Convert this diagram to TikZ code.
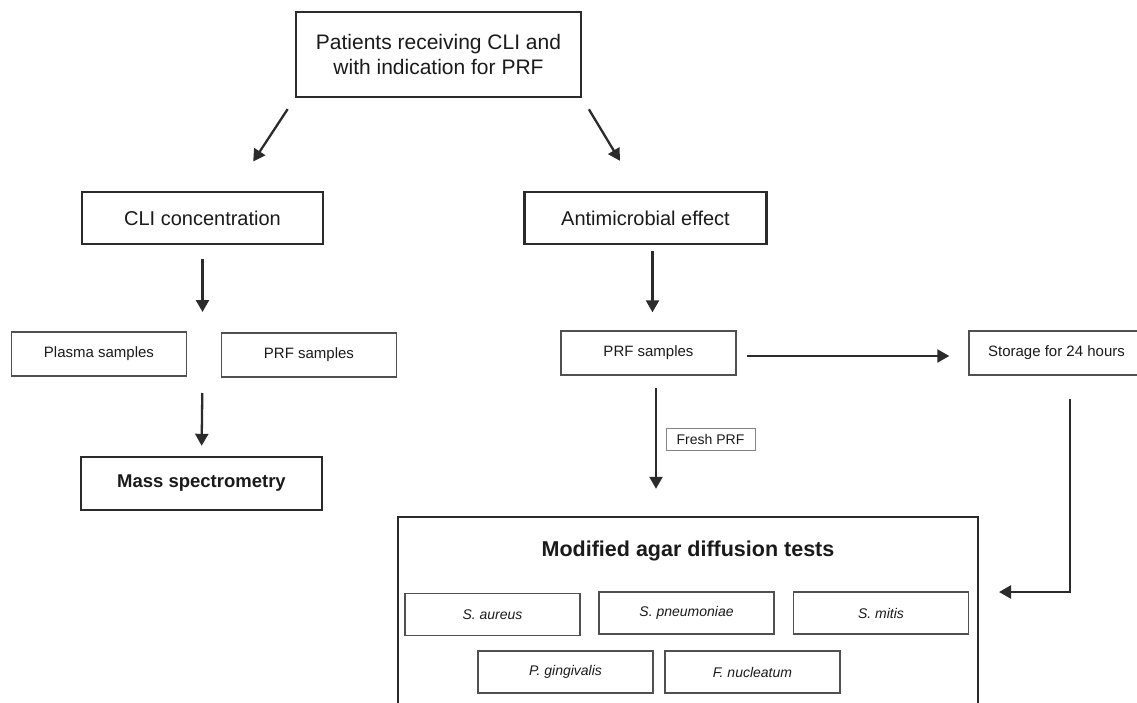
\documentclass[tikz,border=0pt]{standalone}
\usepackage{fontspec}
\setmainfont{Liberation Sans}
\usetikzlibrary{arrows.meta}

\definecolor{ink}{HTML}{1A1A1A}
\definecolor{edge}{HTML}{2B2B2B}
\definecolor{thin}{HTML}{505050}

\begin{document}
\begin{tikzpicture}[x=1pt, y=-1pt,
        every node/.style={rectangle, inner sep=0pt, text=ink, align=center},
        mainbox/.style={draw=edge, line width=2.4pt,
                font=\fontsize{20pt}{25pt}\selectfont},
        smallbox/.style={draw=thin, line width=1.4pt,
                minimum width=175pt, minimum height=44pt,
                font=\fontsize{15pt}{18pt}\selectfont},
        species/.style={smallbox, minimum height=42pt,
                font=\fontsize{14pt}{17pt}\selectfont\itshape},
        arr/.style={draw=edge, line width=2.3pt,
                -{Triangle[width=13pt, length=12pt]}}]
            \useasboundingbox (0,0) rectangle (1137,702);
            \clip (0,0) rectangle (1137,702);

            % top and the two branches
            \node[mainbox, minimum width=285pt, minimum height=85pt,
                font=\fontsize{21pt}{25pt}\selectfont] (pat) at (438.5, 54.5)
                {Patients receiving CLI and\\with indication for PRF};
            \node[mainbox, minimum width=241pt, minimum height=52pt] (cli) at (202.5, 218) {CLI concentration};
            \node[mainbox, minimum width=242pt, minimum height=52pt] (amb) at (645.5, 218) {Antimicrobial effect};

            % left branch
            \node[smallbox] (plasma) at (99, 354) {Plasma samples};
            \node[smallbox] (prfl) at (309, 355) {PRF samples};
            \node[mainbox, minimum width=241pt, minimum height=53pt,
                font=\bfseries\fontsize{18.5pt}{22pt}\selectfont] (mass) at (201.5, 483.5) {Mass spectrometry};
            \coordinate (gapt) at (202.5, 332);
            \coordinate (gapb) at (202.5, 377);

            % right branch
            \node[smallbox] (prfr) at (648.5, 353) {PRF samples};
            \node[smallbox] (store) at (1056.5, 353) {Storage for 24 hours};
            \node[draw=thin!70, line width=1pt, minimum width=89pt, minimum height=22pt,
                font=\fontsize{14pt}{16pt}\selectfont] (fresh) at (710.5, 439) {Fresh PRF};

            % agar tests
            \node[mainbox, minimum width=580pt, minimum height=210pt] (tests) at (688, 622) {};
            \node[font=\bfseries\fontsize{21.5pt}{24pt}\selectfont] (title) at (688, 551)
                {Modified agar diffusion tests};
            \node[species] (sa) at (492.5, 614.5) {S. aureus};
            \node[species] (sp) at (686.5, 613) {S. pneumoniae};
            \node[species] (sm) at (881, 613) {S. mitis};
            \node[species] (pg) at (565.5, 672) {P. gingivalis};
            \node[species] (fn) at (752.5, 672) {F. nucleatum};
            \coordinate (inlet) at (978, 592);

            \draw[arr, shorten <=13pt, shorten >=35pt] (pat.south west) -- ([xshift=31.5pt]cli.north);
            \draw[arr, shorten <=13pt, shorten >=35pt] (pat.south east) -- ([xshift=-7.5pt]amb.north);
            \draw[arr, shorten <=14pt, shorten >=20pt] (cli.south) -- (gapt);
            \draw[arr, shorten <=16pt, shorten >=10pt] (gapb) -- (mass.north);
            \draw[arr, shorten <=6pt, shorten >=18pt] ([xshift=7pt]amb.south) -- ([xshift=4pt]prfr.north);
            \draw[arr, shorten <=10pt, shorten >=19pt] ([yshift=-3pt]prfr.east) -- ([yshift=-3pt]store.west);
            \draw[arr, shorten <=12pt, shorten >=27pt] ([xshift=7.5pt]prfr.south) -- ([xshift=7.5pt]prfr.south |- tests.north);
            \draw[arr, shorten <=23pt, shorten >=21pt] ([xshift=13.5pt]store.south) |- (inlet);
        \end{tikzpicture}
\end{document}
